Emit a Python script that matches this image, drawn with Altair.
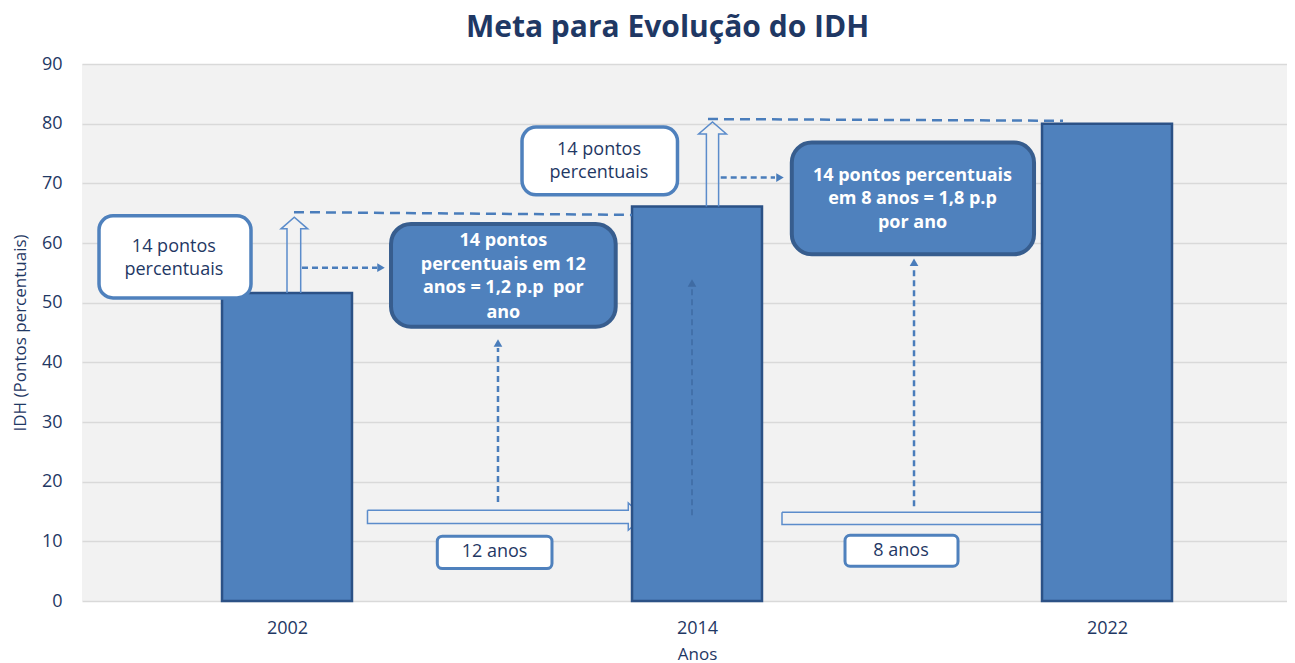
import altair as alt
import pandas as pd

# ---- chart data ----
years = ["2002", "2014", "2022"]
idh = [51.6, 66.1, 80.0]
slots = [0.5, 1.5, 2.5]

# ---- callout boxes (data units: x = category slot, y = IDH) ----
white_x1 = [0.0415, 1.0732]
white_x2 = [0.4122, 1.4524]
white_y1 = [64.55, 79.43]
white_y2 = [50.79, 68.07]
white_text = ["14 pontos", "percentuais", "14 pontos", "percentuais"]
white_tx = [0.224, 0.224, 1.261, 1.261]
white_ty = [59.4, 55.5, 75.62, 71.71]

dark_x1 = [0.7537, 1.7312]
dark_x2 = [1.3017, 2.322]
dark_y1 = [63.2, 76.85]
dark_y2 = [45.97, 58.12]
dark_text = ["14 pontos", "percentuais em 12", "anos = 1,2 p.p\u00a0 por", "ano",
             "14 pontos percentuais", "em 8 anos = 1,8 p.p", "por ano"]
dark_tx = [1.0276, 1.0276, 1.0276, 1.0276, 2.0256, 2.0256, 2.0256]
dark_ty = [60.4, 56.3, 52.4, 48.3, 71.31, 67.35, 63.32]

small_x1 = [0.8666, 1.861]
small_x2 = [1.1463, 2.1366]
small_y1 = [10.86, 11.02]
small_y2 = [5.44, 5.82]
small_text = ["12 anos", "8 anos"]
small_tx = [1.0063, 1.9976]
small_ty = [8.17, 8.34]

# hollow block arrows (outline vertices)
up1_x = [0.5, 0.5, 0.4854, 0.5178, 0.5505, 0.5334, 0.5334]
up1_y = [51.6, 62.37, 62.37, 64.33, 62.37, 62.37, 51.6]
up2_x = [1.5229, 1.5229, 1.5039, 1.5378, 1.5717, 1.5527, 1.5527]
up2_y = [66.1, 78.26, 78.26, 80.27, 78.26, 78.26, 66.1]
right1_x = [0.6963, 1.3324, 1.3324, 1.37, 1.3324, 1.3324, 0.6963, 0.6963]
right1_y = [15.22, 15.22, 16.44, 14.08, 11.86, 12.99, 12.99, 15.22]
right2_x = [1.7073, 2.343, 2.343, 2.39, 2.343, 2.343, 1.7073, 1.7073]
right2_y = [14.89, 14.89, 16.0, 13.86, 11.7, 12.82, 12.82, 14.89]

# long dashed guide lines
guide1_x = [0.517, 1.3415]
guide1_y = [65.17, 64.71]
guide2_x = [1.5268, 2.3927]
guide2_y = [80.77, 80.49]

# dashed arrows: shaft start/end and head position
h1_x = [0.5366, 0.7195]
h1_y = [55.87, 55.87]
h2_x = [1.5578, 1.6902]
h2_y = [70.97, 70.97]
v1_x = [1.0146, 1.0146]
v1_y = [16.6, 42.4]
v2_x = [2.0293, 2.0293]
v2_y = [15.89, 55.94]
v3_x = [1.4878, 1.4878]
v3_y = [14.38, 52.47]
head_right_x = [0.7293, 1.7024]
head_right_y = [55.87, 70.97]
head_up_x = [1.0146, 2.0293]
head_up_y = [43.24, 56.78]
head_faint_x = [1.4878]
head_faint_y = [53.3]

# ---- styles ----
NAVY = "#1f3864"
BAR = "#4f81bd"
BAR_EDGE = "#2b5186"
LINE = "#4a7dbb"
HOLLOW = "#5b8ccb"
FONT = "Open Sans"

xs = alt.Scale(domain=[0, 2.939], nice=False, zero=False)
ys = alt.Scale(domain=[0, 90], nice=False, zero=True)

label_expr = "[" + ",".join("'" + y + "'" for y in years) + "][floor(datum.value)]"

XA = alt.Axis(values=slots, labelExpr=label_expr, grid=False, domain=False,
              ticks=False, tickSize=0, labelPadding=18, labelFontSize=18,
              labelFont=FONT, labelColor=NAVY, titleFont=FONT, titleFontSize=17,
              titleFontWeight="normal", titleColor=NAVY, titleY=58, titleX=615,
              titleAlign="center", titleBaseline="alphabetic")
YA = alt.Axis(values=list(range(0, 91, 10)), grid=True, gridColor="#d9d9d9",
              gridWidth=1.5, domain=False, ticks=False, tickSize=0,
              labelPadding=20, labelFontSize=18, labelFont=FONT,
              labelColor=NAVY, titleFont=FONT, titleFontSize=17,
              titleFontWeight="normal", titleColor=NAVY, titleX=-62,
              titleY=268.5, titleBaseline="middle", titleAngle=270)
XT = "Anos"
YT = "IDH (Pontos percentuais)"


def X(f):
    return alt.X(f, scale=xs, axis=XA, title=XT)


def Y(f):
    return alt.Y(f, scale=ys, axis=YA, title=YT)


def poly(name_x_y):
    rows = []
    for name, xv, yv in name_x_y:
        for i, (a, b) in enumerate(zip(xv, yv)):
            rows.append({"shape": name, "ord": i, "x": a, "y": b})
    return pd.DataFrame(rows)


def line_layer(df, color, width, dash=None):
    kw = dict(color=color, strokeWidth=width)
    if dash:
        kw["strokeDash"] = dash
    return alt.Chart(df).mark_line(**kw).encode(
        x=X("x:Q"), y=Y("y:Q"), detail="shape:N", order="ord:Q")


bars_df = pd.DataFrame({"ano": years, "pos": slots, "idh": idh})
bars = alt.Chart(bars_df).transform_calculate(
    x1="datum.pos - 0.1585", x2="datum.pos + 0.1585", base="0"
).mark_bar(color=BAR, stroke=BAR_EDGE, strokeWidth=2.5).encode(
    x=X("x1:Q"), x2="x2:Q", y=Y("idh:Q"), y2="base:Q")

hollow_right = line_layer(poly([("r1", right1_x, right1_y), ("r2", right2_x, right2_y)]),
                          HOLLOW, 1.5)
hollow_up = line_layer(poly([("u1", up1_x, up1_y), ("u2", up2_x, up2_y)]), HOLLOW, 1.5)
guides = line_layer(poly([("g1", guide1_x, guide1_y), ("g2", guide2_x, guide2_y)]),
                    LINE, 2.5, [10, 6])
dashed_arrows = line_layer(poly([("h1", h1_x, h1_y), ("h2", h2_x, h2_y),
                                 ("v1", v1_x, v1_y), ("v2", v2_x, v2_y)]),
                           LINE, 2.5, [6, 4])
faint_arrow = line_layer(poly([("v3", v3_x, v3_y)]), "#3f6ba3", 1.5, [6, 4])


def heads(xv, yv, shape, color):
    df = pd.DataFrame({"x": xv, "y": yv})
    return alt.Chart(df).mark_point(shape=shape, filled=True, size=75, color=color,
                                    opacity=1, strokeWidth=0).encode(
        x=X("x:Q"), y=Y("y:Q"))


head_r = heads(head_right_x, head_right_y, "triangle-right", LINE)
head_u = heads(head_up_x, head_up_y, "triangle-up", LINE)
head_f = heads(head_faint_x, head_faint_y, "triangle-up", "#3f6ba3")


def boxes(x1, x2, y1, y2, fill, stroke, sw, radius):
    df = pd.DataFrame({"x1": x1, "x2": x2, "y1": y1, "y2": y2})
    return alt.Chart(df).mark_rect(fill=fill, stroke=stroke, strokeWidth=sw,
                                   cornerRadius=radius).encode(
        x=X("x1:Q"), x2="x2:Q", y=Y("y1:Q"), y2="y2:Q")


def texts(tx, ty, tt, color, weight):
    df = pd.DataFrame({"x": tx, "y": ty, "t": tt})
    return alt.Chart(df).mark_text(font=FONT, fontSize=18, fontWeight=weight, color=color,
                                   align="center", baseline="middle").encode(
        x=X("x:Q"), y=Y("y:Q"), text="t:N")


white_boxes = boxes(white_x1, white_x2, white_y1, white_y2, "white", BAR, 3.5, 14)
dark_boxes = boxes(dark_x1, dark_x2, dark_y1, dark_y2, BAR, "#375d8e", 4, 20)
small_boxes = boxes(small_x1, small_x2, small_y1, small_y2, "white", BAR, 3, 5)

white_txt = texts(white_tx, white_ty, white_text, NAVY, "normal")
dark_txt = texts(dark_tx, dark_ty, dark_text, "white", "bold")
small_txt = texts(small_tx, small_ty, small_text, NAVY, "normal")

chart = alt.layer(
    hollow_right, bars, hollow_up, guides, dashed_arrows, faint_arrow,
    head_r, head_u, head_f,
    white_boxes, dark_boxes, small_boxes, white_txt, dark_txt, small_txt,
).properties(
    width=1205, height=537,
    background="white",
    autosize=alt.AutoSizeParams(type="none"),
    padding={"left": 74, "top": 56, "right": 0, "bottom": 62},
    title=alt.TitleParams(text="Meta para Evolução do IDH", font=FONT, fontSize=30,
                          fontWeight="bold", color=NAVY, anchor="middle",
                          baseline="alphabetic", offset=-12, dx=-17),
).configure_view(fill="#f2f2f2", strokeWidth=0)

chart.save("out.html", embed_options={"renderer": "svg", "actions": False})
